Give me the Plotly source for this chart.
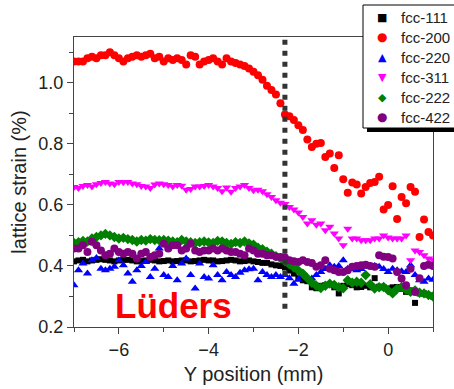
import numpy as np
import plotly.graph_objects as go

# sampling positions (mm), step 0.1 from -7.0 to 1.0
y_position = np.round(np.linspace(-7.0, 1.0, 81), 2)

fcc_111 = [0.415, 0.418, 0.420, 0.415, 0.418, 0.420, 0.422, 0.420, 0.418, 0.415,
           0.418, 0.420, 0.420, 0.418, 0.415, 0.416, 0.418, 0.420, 0.418, 0.415,
           0.416, 0.418, 0.415, 0.416, 0.418, 0.418, 0.415, 0.416, 0.418, 0.420,
           0.418, 0.418, 0.415, 0.416, 0.418, 0.420, 0.418, 0.415, 0.416, 0.418,
           0.415, 0.413, 0.410, 0.410, 0.405, 0.402, 0.400, 0.395, 0.385, 0.375,
           0.360, 0.353, 0.350, 0.330, 0.327, 0.335, 0.337, 0.340, 0.330, 0.310,
           0.335, 0.340, 0.337, 0.330, 0.331, 0.335, 0.330, 0.360, 0.332, 0.330,
           0.326, 0.330, 0.331, 0.325, 0.315, 0.320, 0.279, 0.310, 0.310, 0.305,
           0.300]

fcc_200 = [1.070, 1.070, 1.070, 1.080, 1.085, 1.080, 1.090, 1.090, 1.100, 1.090,
           1.080, 1.070, 1.080, 1.085, 1.090, 1.085, 1.090, 1.095, 1.080, 1.085,
           1.070, 1.080, 1.075, 1.080, 1.075, 1.060, 1.090, 1.085, 1.060, 1.070,
           1.075, 1.080, 1.070, 1.060, 1.080, 1.070, 1.065, 1.060, 1.055, 1.047,
           1.036, 1.025, 1.010, 0.990, 0.976, 0.962, 0.933, 0.896, 0.890, 0.878,
           0.861, 0.845, 0.814, 0.790, 0.800, 0.803, 0.757, 0.768, 0.721, 0.763,
           0.684, 0.640, 0.673, 0.667, 0.637, 0.659, 0.672, 0.675, 0.692, 0.585,
           0.600, 0.661, 0.554, 0.626, 0.605, 0.659, 0.643, 0.495, 0.552, 0.511,
           0.500]

fcc_220 = [0.337, 0.386, 0.408, 0.375, 0.419, 0.426, 0.391, 0.386, 0.391, 0.397,
           0.419, 0.402, 0.375, 0.348, 0.386, 0.400, 0.413, 0.364, 0.391, 0.457,
           0.370, 0.364, 0.400, 0.353, 0.408, 0.424, 0.370, 0.326, 0.408, 0.364,
           0.359, 0.402, 0.370, 0.353, 0.380, 0.370, 0.364, 0.378, 0.386, 0.389,
           0.391, 0.353, 0.380, 0.370, 0.364, 0.370, 0.364, 0.370, 0.360, 0.342,
           0.355, 0.370, 0.362, 0.359, 0.370, 0.380, 0.390, 0.402, 0.397, 0.400,
           0.419, 0.391, 0.390, 0.386, 0.390, 0.397, 0.400, 0.400, 0.397, 0.390,
           0.380, 0.391, 0.386, 0.383, 0.380, 0.402, 0.370, 0.353, 0.348, 0.359,
           0.355]

fcc_311 = [0.659, 0.655, 0.662, 0.665, 0.660, 0.668, 0.672, 0.675, 0.670, 0.668,
           0.675, 0.674, 0.675, 0.670, 0.668, 0.662, 0.660, 0.655, 0.667, 0.670,
           0.668, 0.665, 0.660, 0.665, 0.663, 0.650, 0.652, 0.660, 0.660, 0.662,
           0.665, 0.660, 0.655, 0.645, 0.657, 0.643, 0.655, 0.660, 0.665, 0.655,
           0.648, 0.650, 0.645, 0.635, 0.626, 0.615, 0.607, 0.603, 0.593, 0.585,
           0.575, 0.560, 0.539, 0.550, 0.535, 0.539, 0.517, 0.528, 0.506, 0.490,
           0.468, 0.522, 0.490, 0.490, 0.484, 0.484, 0.484, 0.490, 0.490, 0.500,
           0.493, 0.490, 0.490, 0.490, 0.500, 0.419, 0.451, 0.446, 0.435, 0.424,
           0.420]

fcc_222 = [0.475, 0.478, 0.482, 0.480, 0.490, 0.495, 0.500, 0.505, 0.500, 0.495,
           0.490, 0.492, 0.488, 0.485, 0.480, 0.485, 0.483, 0.488, 0.485, 0.484,
           0.485, 0.483, 0.480, 0.478, 0.485, 0.480, 0.478, 0.475, 0.478, 0.480,
           0.477, 0.475, 0.482, 0.480, 0.475, 0.472, 0.478, 0.475, 0.480, 0.474,
           0.470, 0.460, 0.455, 0.447, 0.440, 0.432, 0.425, 0.415, 0.405, 0.395,
           0.385, 0.375, 0.360, 0.345, 0.335, 0.328, 0.335, 0.342, 0.338, 0.330,
           0.327, 0.353, 0.345, 0.348, 0.345, 0.370, 0.340, 0.326, 0.330, 0.331,
           0.320, 0.310, 0.325, 0.331, 0.322, 0.315, 0.320, 0.312, 0.310, 0.305,
           0.300]

fcc_422 = [0.457, 0.457, 0.468, 0.446, 0.479, 0.468, 0.451, 0.435, 0.440, 0.457,
           0.446, 0.440, 0.446, 0.440, 0.424, 0.440, 0.446, 0.429, 0.435, 0.440,
           0.473, 0.457, 0.468, 0.468, 0.451, 0.457, 0.473, 0.451, 0.446, 0.451,
           0.451, 0.457, 0.451, 0.457, 0.451, 0.446, 0.446, 0.440, 0.435, 0.457,
           0.451, 0.440, 0.440, 0.435, 0.435, 0.430, 0.429, 0.428, 0.419, 0.415,
           0.413, 0.419, 0.413, 0.410, 0.397, 0.402, 0.419, 0.391, 0.386, 0.380,
           0.380, 0.386, 0.397, 0.400, 0.402, 0.404, 0.400, 0.397, 0.435, 0.430,
           0.429, 0.424, 0.380, 0.359, 0.337, 0.391, 0.315, 0.360, 0.400, 0.404,
           0.400]

series_names = ["fcc-111", "fcc-200", "fcc-220", "fcc-311", "fcc-222", "fcc-422"]
series_values = [fcc_111, fcc_200, fcc_220, fcc_311, fcc_222, fcc_422]
symbols = ["square", "circle", "triangle-up", "triangle-down", "diamond", "circle"]
legend_glyphs = ["■", "●", "▲", "▼", "◆", "●"]
glyph_sizes = [11, 12, 11, 11, 11, 12]
colors = ["#000000", "#ff0000", "#0000ff", "#ff00ff", "#008000", "#800080"]
marker_sizes = [6, 8, 8, 8, 8, 8]

luders_x = -2.3
luders_line_bottom = 0.26

# pixel geometry of the plot area
L, R, T, B = 74, 433, 37, 327
def px(xp):
    return (xp - L) / (R - L)
def py(yp):
    return (B - yp) / (B - T)

font_family = "Liberation Sans, Arial, sans-serif"

fig = go.Figure()
for name, vals, sym, col, sz in zip(series_names, series_values, symbols, colors, marker_sizes):
    fig.add_trace(go.Scatter(
        x=y_position, y=vals, mode="markers", name=name,
        marker=dict(symbol=sym, color=col, size=sz, line=dict(width=0)),
    ))

fig.add_shape(type="line", xref="x", yref="y",
              x0=luders_x, x1=luders_x, y0=luders_line_bottom, y1=1.15,
              line=dict(color="#333333", width=5, dash="5px,6px"))

fig.add_annotation(x=-4.79, y=0.271, xref="x", yref="y", text="<b>Lüders</b>",
                   showarrow=False, font=dict(family=font_family, size=35, color="#ff0000"))

# legend box with shadow (drawn manually, extends past the figure edge as in the reference)
fig.add_shape(type="rect", xref="paper", yref="paper",
              x0=px(367), x1=px(470), y0=py(132), y1=py(10),
              fillcolor="#000000", line=dict(width=0), layer="above")
fig.add_shape(type="rect", xref="paper", yref="paper",
              x0=px(363), x1=px(470), y0=py(128), y1=py(5),
              fillcolor="#ffffff", line=dict(width=1, color="#000000"), layer="above")
for i, (name, glyph, gs, col) in enumerate(zip(series_names, legend_glyphs, glyph_sizes, colors)):
    yc = 17 + 20 * i
    fig.add_annotation(xref="paper", yref="paper", x=px(382), y=py(yc), text=glyph,
                       showarrow=False, xanchor="center", yanchor="middle",
                       font=dict(family="DejaVu Sans", size=gs, color=col))
    fig.add_annotation(xref="paper", yref="paper", x=px(399), y=py(yc), text=name,
                       showarrow=False, xanchor="left", yanchor="middle",
                       font=dict(family=font_family, size=15, color="#222222"))

axis_common = dict(
    showline=True, linecolor="#444444", linewidth=1.2, mirror=True,
    ticks="outside", ticklen=6, tickcolor="#444444", tickwidth=1.2,
    showgrid=False, zeroline=False,
    tickfont=dict(family=font_family, size=18, color="#222222"),
)

fig.update_layout(
    width=454, height=389,
    margin=dict(l=L, r=454 - R, t=T, b=389 - B, autoexpand=False),
    paper_bgcolor="white", plot_bgcolor="white",
    font=dict(family=font_family, color="#222222"),
    xaxis=dict(range=[-7.0, 1.0], dtick=2, tick0=0,
               minor=dict(ticks="outside", dtick=1, ticklen=4, tickcolor="#444444"),
               title=dict(text="Y position (mm)", font=dict(size=20, family=font_family), standoff=8),
               **axis_common),
    yaxis=dict(range=[0.2, 1.15], dtick=0.2, tick0=0.2, tickformat=".1f",
               minor=dict(ticks="outside", dtick=0.1, ticklen=4, tickcolor="#444444"),
               title=dict(text="lattice strain (%)", font=dict(size=20, family=font_family), standoff=6),
               **axis_common),
    showlegend=False,
)

fig.write_html("out.html")
